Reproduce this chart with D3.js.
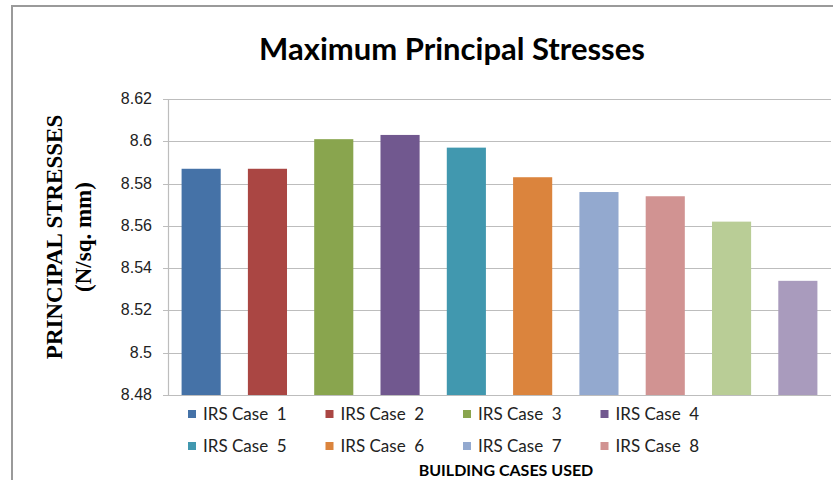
<!DOCTYPE html>
<html>
<head>
<meta charset="utf-8">
<script src="https://cdn.jsdelivr.net/npm/d3@7"></script>
<style>
  body { margin: 0; background: #fff; }
  svg { display: block; }
</style>
</head>
<body>
<div id="chart"></div>
<script>
// chart data
const cases = ["IRS Case  1", "IRS Case  2", "IRS Case  3", "IRS Case  4", "IRS Case  5",
               "IRS Case  6", "IRS Case  7", "IRS Case  8", "IRS Case  9", "IRS Case  10"]
const stresses = [8.587, 8.587, 8.601, 8.603, 8.597, 8.583, 8.576, 8.574, 8.562, 8.534]
const yTicks = [8.48, 8.5, 8.52, 8.54, 8.56, 8.58, 8.6, 8.62]
const colors = ["#4572A7", "#AA4643", "#89A54E", "#71588F", "#4198AF",
                "#DB843D", "#93A9CF", "#D19392", "#B9CD96", "#A99BBD"]
// only the first 8 entries fit in the legend
const legendCases = cases.slice(0, 8)

const width = 833
const height = 480
const margin = {top: 99, right: 2, bottom: 85, left: 168}

const svg = d3.select("#chart").append("svg")
    .attr("width", width)
    .attr("height", height)

// outer chart frame
svg.append("rect")
    .attr("x", 12).attr("y", 6)
    .attr("width", width + 10).attr("height", height)
    .attr("fill", "#fff")
    .attr("stroke", "#9a9a9a")
    .attr("stroke-width", 2)

svg.append("text")
    .attr("x", 452).attr("y", 60)
    .attr("text-anchor", "middle")
    .style("font-family", "Lato, 'Open Sans', sans-serif")
    .style("font-weight", "bold")
    .style("font-size", "31px")
    .text("Maximum Principal Stresses")

const x = d3.scaleBand()
    .domain(cases)
    .range([margin.left, width - margin.right])
    .paddingInner(0.41)
    .paddingOuter(0.205)

const y = d3.scaleLinear()
    .domain([8.48, 8.62])
    .range([height - margin.bottom, margin.top])

// gridlines
svg.append("g")
  .selectAll("line")
  .data(yTicks)
  .join("line")
    .attr("x1", margin.left - 5)
    .attr("x2", width - margin.right)
    .attr("y1", d => Math.round(y(d)) + 0.5)
    .attr("y2", d => Math.round(y(d)) + 0.5)
    .attr("stroke", "#bdbdbd")
    .attr("stroke-width", 1.2)

// y axis line
svg.append("line")
    .attr("x1", margin.left + 0.5).attr("x2", margin.left + 0.5)
    .attr("y1", margin.top).attr("y2", height - margin.bottom)
    .attr("stroke", "#bdbdbd")
    .attr("stroke-width", 1.2)

// bars
svg.append("g")
  .selectAll("rect")
  .data(stresses)
  .join("rect")
    .attr("x", (d, i) => x(cases[i]))
    .attr("width", x.bandwidth())
    .attr("y", d => y(d))
    .attr("height", d => y(8.48) - y(d))
    .attr("fill", (d, i) => colors[i])

// y tick labels
svg.append("g")
  .selectAll("text")
  .data(yTicks)
  .join("text")
    .attr("x", 152)
    .attr("y", d => y(d) + 5)
    .attr("text-anchor", "end")
    .style("font-family", "'Liberation Sans', Arial, sans-serif")
    .style("font-size", "16px")
    .attr("fill", "#222")
    .text(d => d3.format("")(+d.toFixed(2)))

// y axis title
const yTitle = svg.append("g")
    .attr("transform", "translate(55,237) rotate(-90)")
yTitle.append("text")
    .attr("text-anchor", "middle")
    .attr("y", 7)
    .style("font-family", "'Liberation Serif', 'Times New Roman', serif")
    .style("font-weight", "bold")
    .style("font-size", "23px")
    .text("PRINCIPAL STRESSES")
yTitle.append("text")
    .attr("text-anchor", "middle")
    .attr("y", 36)
    .style("font-family", "'Liberation Serif', 'Times New Roman', serif")
    .style("font-weight", "bold")
    .style("font-size", "23px")
    .text("(N/sq. mm)")

// legend
const legend = svg.append("g")
  .selectAll("g")
  .data(legendCases)
  .join("g")
    .attr("transform", (d, i) => `translate(${188 + (i % 4) * 137.5},${415 + Math.floor(i / 4) * 32})`)

legend.append("rect")
    .attr("x", 0).attr("y", -5)
    .attr("width", 8).attr("height", 8)
    .attr("fill", (d, i) => colors[i])

legend.append("text")
    .attr("x", 15).attr("y", 5)
    .style("font-family", "Lato, 'Open Sans', sans-serif")
    .style("font-size", "17px")
    .style("white-space", "pre")
    .attr("fill", "#222")
    .text(d => d)

svg.append("text")
    .attr("x", 506).attr("y", 476)
    .attr("text-anchor", "middle")
    .style("font-family", "Lato, 'Open Sans', sans-serif")
    .style("font-weight", "bold")
    .style("font-size", "16px")
    .text("BUILDING CASES USED")
</script>
</body>
</html>
